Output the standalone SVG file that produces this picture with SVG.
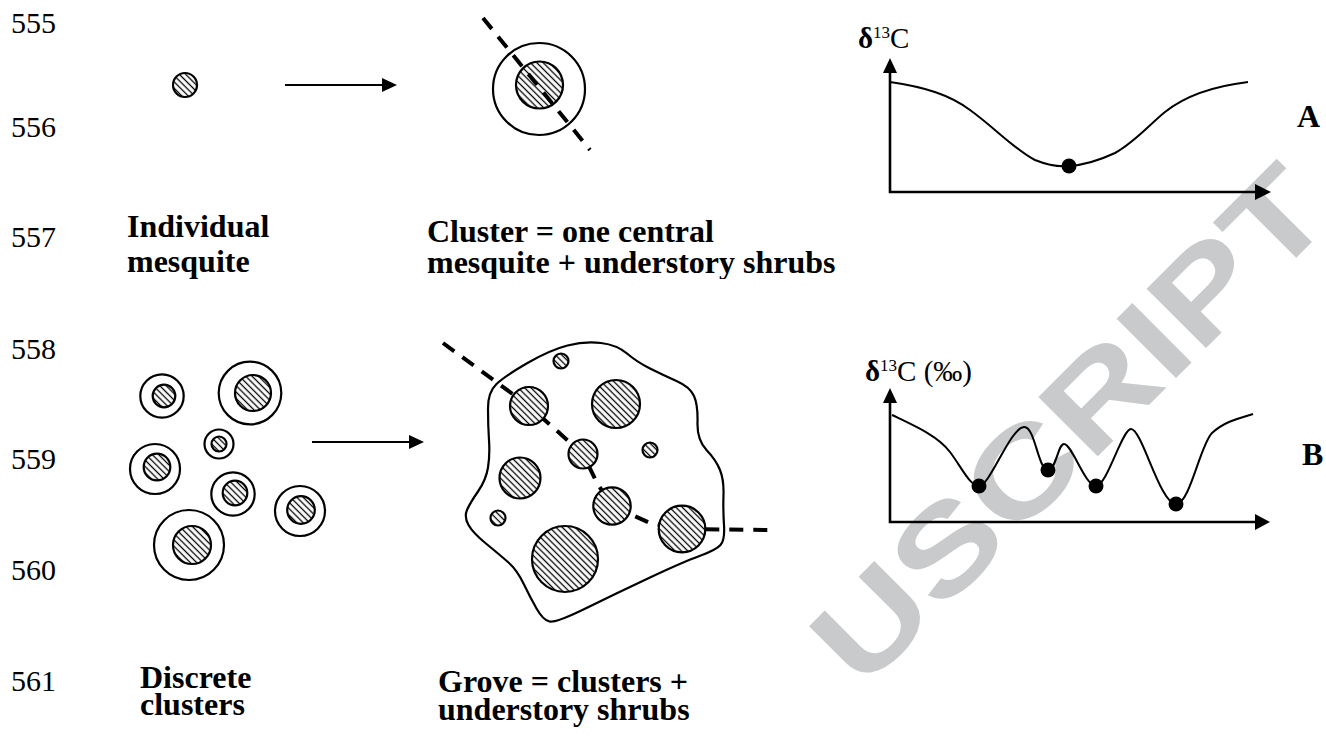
<svg xmlns="http://www.w3.org/2000/svg" width="1326" height="736" viewBox="0 0 1326 736">
<defs>
<pattern id="hatch" patternUnits="userSpaceOnUse" width="4.5" height="4.5" patternTransform="rotate(45)">
<rect width="4.5" height="4.5" fill="#fff"/>
<line x1="0" y1="2.25" x2="4.5" y2="2.25" stroke="#000" stroke-width="1.3"/>
</pattern>
<clipPath id="topclip"><rect x="0" y="0" width="1326" height="279"/></clipPath>
</defs>
<style>
.num{font-family:"Liberation Serif","Times New Roman",Tinos,"DejaVu Serif",serif;font-size:30px;fill:#000}
.lab{font-family:"Liberation Serif","Times New Roman",Tinos,"DejaVu Serif",serif;font-size:32px;font-weight:bold;fill:#000}
.ax{font-family:"Liberation Serif","Times New Roman",Tinos,"DejaVu Serif",serif;font-size:29px;fill:#000}
.h{fill:url(#hatch);stroke:#000;stroke-width:2.2}
.ring{fill:none;stroke:#000;stroke-width:2.2}
.axis{fill:none;stroke:#000;stroke-width:2.6}
.curve{fill:none;stroke:#000;stroke-width:2}
.dash{fill:none;stroke:#000;stroke-width:4;stroke-dasharray:14 10}
.wm{font-family:"Liberation Sans",Arial,sans-serif;font-weight:bold;font-size:122px;fill:#c9cacc}
</style>
<rect width="1326" height="736" fill="#fff"/>
<g id="watermark">
<text class="wm" x="0" y="0" transform="translate(862,692) rotate(-45)" textLength="672" lengthAdjust="spacingAndGlyphs">USCRIPT</text>
</g>
<g id="line-numbers">
<text class="num" x="11" y="33">555</text>
<text class="num" x="11" y="137">556</text>
<text class="num" x="11" y="247">557</text>
<text class="num" x="11" y="359">558</text>
<text class="num" x="11" y="469">559</text>
<text class="num" x="11" y="580">560</text>
<text class="num" x="11" y="691">561</text>
</g>
<g id="individual">
<circle class="h" cx="185" cy="85" r="12"/>
<text class="lab" x="127" y="237" clip-path="url(#topclip)">Individual</text>
<text class="lab" x="127" y="272" clip-path="url(#topclip)">mesquite</text>
</g>
<g id="cluster">
<circle class="ring" cx="539" cy="89" r="46"/>
<circle class="h" cx="539.5" cy="85" r="23.5"/>
<line class="dash" x1="483" y1="18" x2="590" y2="150"/>
<text class="lab" clip-path="url(#topclip)"><tspan x="427" y="242">Cluster = one central</tspan><tspan x="427" y="273">mesquite + understory shrubs</tspan></text>
</g>
<g id="discrete-clusters">
<circle class="ring" cx="162" cy="396" r="21.7"/><circle class="h" cx="164" cy="396" r="11.3"/>
<circle class="ring" cx="250" cy="393" r="31.3"/><circle class="h" cx="253" cy="393" r="18"/>
<circle class="ring" cx="219" cy="444" r="14.5"/><circle class="h" cx="219" cy="444" r="7.5"/>
<circle class="ring" cx="155" cy="469" r="25"/><circle class="h" cx="157" cy="467" r="13.3"/>
<circle class="ring" cx="233" cy="494" r="21.7"/><circle class="h" cx="235" cy="493" r="12.3"/>
<circle class="ring" cx="300" cy="511" r="25"/><circle class="h" cx="301" cy="510" r="13.8"/>
<circle class="ring" cx="189" cy="545" r="35"/><circle class="h" cx="192" cy="545" r="19"/>
<text class="lab" x="140" y="688">Discrete</text>
<text class="lab" x="140" y="715">clusters</text>
</g>
<g id="grove">
<path fill="#fff" stroke="#000" stroke-width="2.2" d="M 496.5,384 Q 505,376 527.5,363 Q 550,350 567.5,345.5 Q 585,341 601,343 Q 617,345 627,353.5 Q 637,362 650,368.5 Q 663,375 676.5,381 Q 690,387 694,396 Q 698,405 697.5,422.5 Q 697,440 706.5,450 Q 716,460 720,470 Q 724,480 723.5,495 Q 723,510 724,525 Q 725,540 720.5,545 Q 716,550 699.5,556 Q 683,562 650,577.5 Q 617,593 586.5,608 Q 556,623 549.5,621.5 Q 543,620 536.5,608.5 Q 530,597 523.5,583.5 Q 517,570 508.5,562.5 Q 500,555 486.5,544 Q 473,533 468.5,525 Q 464,517 467,510 Q 470,503 478,491.5 Q 486,480 488,467.5 Q 490,455 489,440 Q 488,425 488,408.5 Q 488,392 496.5,384 Z"/>
<polyline class="dash" points="443,343 529,406 583,454 597,483 612,506 650,523 682,529 773,530"/>
<circle class="h" cx="561" cy="361" r="7.5"/>
<circle class="h" cx="529" cy="406" r="19"/>
<circle class="h" cx="616" cy="404" r="24"/>
<circle class="h" cx="583" cy="454" r="14.5"/>
<circle class="h" cx="650" cy="450" r="7.5"/>
<circle class="h" cx="520" cy="478" r="20.5"/>
<circle class="h" cx="612" cy="506" r="18.7"/>
<circle class="h" cx="498" cy="518" r="7.5"/>
<circle class="h" cx="682" cy="529" r="23.3"/>
<circle class="h" cx="565" cy="559" r="33"/>
<text class="lab" x="438" y="692">Grove = clusters +</text>
<text class="lab" x="438" y="720">understory shrubs</text>
</g>
<g id="connectors">
<line x1="285" y1="85" x2="384" y2="85" stroke="#000" stroke-width="2"/>
<polygon points="382,78 397,85 382,92" fill="#000"/>
<line x1="312" y1="442" x2="411" y2="442" stroke="#000" stroke-width="2"/>
<polygon points="409,435 424,442 409,449" fill="#000"/>
</g>
<g id="graph-A">
<polyline class="axis" points="890,70 890,192 1258,192"/>
<polygon points="883,73 890,58 897,73" fill="#000"/>
<polygon points="1255,184 1271,192 1255,200" fill="#000"/>
<path class="curve" d="M 890,82 C 925,87 950,95 970,110 C 995,128 1015,150 1035,160 C 1050,166 1060,167 1069,166 C 1085,165 1100,160 1115,153 C 1135,142 1150,124 1165,112 C 1185,96 1215,86 1248,82"/>
<circle cx="1069" cy="166" r="7.5" fill="#000"/>
<text class="ax" x="858" y="48"><tspan font-weight="bold">δ</tspan><tspan font-size="17" dy="-10">13</tspan><tspan dy="10">C</tspan></text>
<text class="lab" x="1297" y="127" font-size="30">A</text>
</g>
<g id="graph-B">
<polyline class="axis" points="890,400 890,522 1258,522"/>
<polygon points="883,403 890,388 897,403" fill="#000"/>
<polygon points="1255,514 1270,522 1255,530" fill="#000"/>
<path class="curve" d="M 892,415 C 915,426 938,436 950,452 C 962,468 970,486 979,486 C 990,486 1010,428 1024,427 C 1035,426 1038,470 1048,470 C 1056,470 1058,444 1064,444 C 1072,444 1085,486 1096,486 C 1107,486 1122,429 1131,429 C 1142,429 1160,504 1176,504 C 1190,504 1200,445 1212,433 C 1225,421 1240,418 1253,414"/>
<circle cx="979" cy="486" r="7.5" fill="#000"/>
<circle cx="1048" cy="470" r="7.5" fill="#000"/>
<circle cx="1096" cy="486" r="7.5" fill="#000"/>
<circle cx="1176" cy="504" r="7.5" fill="#000"/>
<text class="ax" x="865" y="381"><tspan font-weight="bold">δ</tspan><tspan font-size="17" dy="-10">13</tspan><tspan dy="10">C (‰)</tspan></text>
<text class="lab" x="1302" y="465" font-size="30">B</text>
</g>
</svg>
